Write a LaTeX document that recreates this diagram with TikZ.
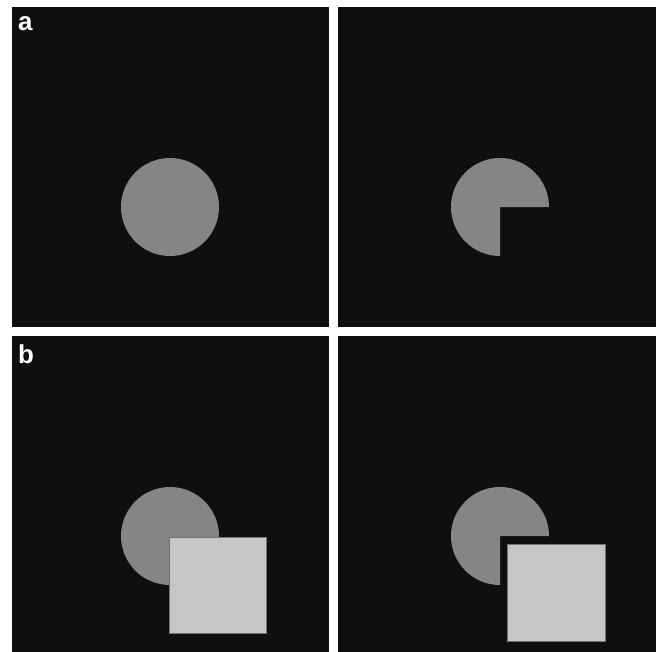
\documentclass[tikz,border=0pt]{standalone}
\usepackage{fontspec}
\setmainfont{Liberation Sans}
\usepackage{xcolor}
\definecolor{panelbg}{HTML}{0F0F0F}
\definecolor{discgray}{HTML}{858585}
\definecolor{slabgray}{HTML}{C6C6C6}

\begin{document}
\begin{tikzpicture}[
  x=1bp,y=-1bp,
  panel/.style={fill=panelbg},
  disc/.style={fill=discgray},
  slab/.style={fill=slabgray,draw=black!55,line width=0.6bp},
  tag/.style={
    text=white,
    font=\fontsize{26}{26}\selectfont\bfseries,
    inner sep=0pt,
    anchor=base west
  }
]
  \useasboundingbox[fill=white] (0,0) rectangle (660,652);

  % Four dark panels.
  \fill[panel] (12,7) rectangle (329,327);
  \fill[panel] (338,7) rectangle (656,327);
  \fill[panel] (12,336) rectangle (329,652);
  \fill[panel] (338,336) rectangle (656,652);

  \node[tag] (taga) at (18,31) {a};
  \node[tag] (tagb) at (18,363) {b};

  % Row a: full disc and disc with a missing quadrant.
  \coordinate (ca) at (170,207);
  \coordinate (cb) at (500,207);
  \fill[disc] (ca) circle[radius=49];
  \fill[disc] (cb) -- ([shift={(0,49)}]cb)
    arc[start angle=90,end angle=360,radius=49] -- cycle;

  % Row b: the same shapes with a square in front.
  \coordinate (cc) at (170,536);
  \coordinate (cd) at (500,536);
  \fill[disc] (cc) circle[radius=49];
  \fill[disc] (cd) -- ([shift={(0,49)}]cd)
    arc[start angle=90,end angle=360,radius=49] -- cycle;
  \filldraw[slab] (169,537) rectangle (266,633);
  \filldraw[slab] (507,544) rectangle (605,641);
\end{tikzpicture}
\end{document}
